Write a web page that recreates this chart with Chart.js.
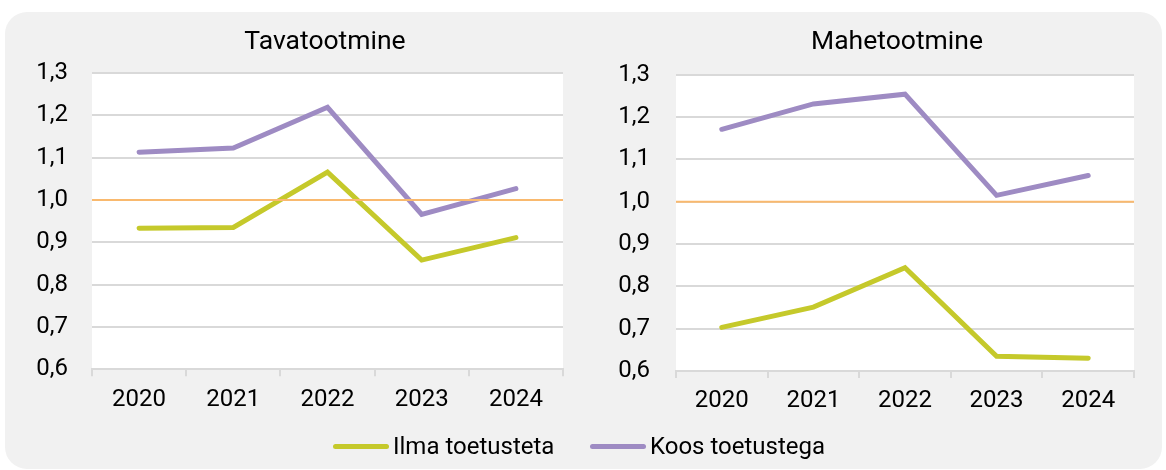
<!DOCTYPE html>
<html>
<head>
<meta charset="utf-8">
<script src="https://cdn.jsdelivr.net/npm/chart.js@4"></script>
<style>
  body { margin: 0; background: #fff; overflow: hidden; font-family: Roboto, sans-serif; }
  #bg { position: absolute; left: 5px; top: 12px; width: 1157px; height: 457px; background: #f1f1f1; border-radius: 22px; }
  canvas { position: absolute; top: 0; }
  #tava { left: 0; }
  #mahe { left: 583px; }
  .pealkiri { position: absolute; top: 24px; width: 600px; text-align: center; font-size: 26.5px; line-height: 32px; color: #000; }
  .item { position: absolute; top: 432px; font-size: 24px; line-height: 28px; color: #000; white-space: nowrap; }
  .item i { display: inline-block; width: 56px; height: 5px; border-radius: 3px; vertical-align: middle; margin-right: 4px; position: relative; top: -1px; }
</style>
</head>
<body>
<div id="bg"></div>
<canvas id="tava" width="583" height="470"></canvas>
<canvas id="mahe" width="583" height="470"></canvas>
<div class="pealkiri" style="left:25px">Tavatootmine</div>
<div class="pealkiri" style="left:597px">Mahetootmine</div>
<div class="item" style="left:333px"><i style="background:#c5c92b"></i>Ilma toetusteta</div>
<div class="item" style="left:590px"><i style="background:#9e8bc3"></i>Koos toetustega</div>
<script>
const aastad = ['2020', '2021', '2022', '2023', '2024'];
const tavaIlma = [0.933, 0.935, 1.066, 0.858, 0.911];
const tavaKoos = [1.113, 1.123, 1.219, 0.966, 1.027];
const maheIlma = [0.703, 0.751, 0.844, 0.635, 0.630];
const maheKoos = [1.171, 1.231, 1.254, 1.015, 1.062];
const tasuvusPiir = 1.0;
const yMin = 0.6, yMax = 1.3, ySamm = 0.1;

const roheline = '#c5c92b';
const lilla = '#9e8bc3';
const oranz = '#f9b96e';
const voreVarv = '#d9d9d9';

// valge joonise ala + oranž 1,0 joon
const paneel = {
    id: 'paneel',
    beforeDraw(chart) {
        const { ctx, chartArea: a } = chart;
        ctx.save();
        ctx.fillStyle = '#fff';
        ctx.fillRect(a.left, a.top, a.right - a.left, a.bottom - a.top);
        ctx.restore();
    },
    afterDatasetsDraw(chart) {
        const { ctx, chartArea: a, scales } = chart;
        const y = scales.y.getPixelForValue(tasuvusPiir);
        ctx.save();
        ctx.strokeStyle = oranz;
        ctx.lineWidth = 2;
        ctx.beginPath();
        ctx.moveTo(a.left, y);
        ctx.lineTo(a.right, y);
        ctx.stroke();
        ctx.restore();
    }
};

function joonis(id, ilma, koos, m) {
    const font = { family: 'Roboto', size: 24 };
    return new Chart(document.getElementById(id), {
        type: 'line',
        data: {
            labels: aastad,
            datasets: [
                { label: 'Koos toetustega', data: koos, borderColor: lilla, borderWidth: 5, pointRadius: 0, tension: 0, borderCapStyle: 'round' },
                { label: 'Ilma toetusteta', data: ilma, borderColor: roheline, borderWidth: 5, pointRadius: 0, tension: 0, borderCapStyle: 'round' }
            ]
        },
        options: {
            responsive: false,
            animation: false,
            layout: { padding: { left: 0, right: m.pR, top: m.pT, bottom: 0 } },
            plugins: {
                legend: { display: false },
                tooltip: { enabled: false }
            },
            scales: {
                x: {
                    offset: true,
                    grid: { offset: true, drawOnChartArea: false, tickLength: 7, color: voreVarv, lineWidth: 2 },
                    border: { color: voreVarv, width: 2 },
                    ticks: { color: '#000', font, padding: 9, maxRotation: 0 },
                    afterFit: s => { s.height = m.xH; }
                },
                y: {
                    min: yMin, max: yMax,
                    grid: { color: voreVarv, lineWidth: 2, drawTicks: false },
                    border: { display: false },
                    ticks: { stepSize: ySamm, color: '#000', font, padding: m.yPad,
                        callback: v => v.toFixed(1).replace('.', ',') },
                    afterFit: s => { s.width = m.yW; }
                }
            }
        },
        plugins: [paneel]
    });
}

joonis('tava', tavaIlma, tavaKoos, { pR: 20, pT: 73, yW: 92, yPad: 24, xH: 100.7 });
joonis('mahe', maheIlma, maheKoos, { pR: 32, pT: 74.7, yW: 93, yPad: 26, xH: 99 });
</script>
</body>
</html>
